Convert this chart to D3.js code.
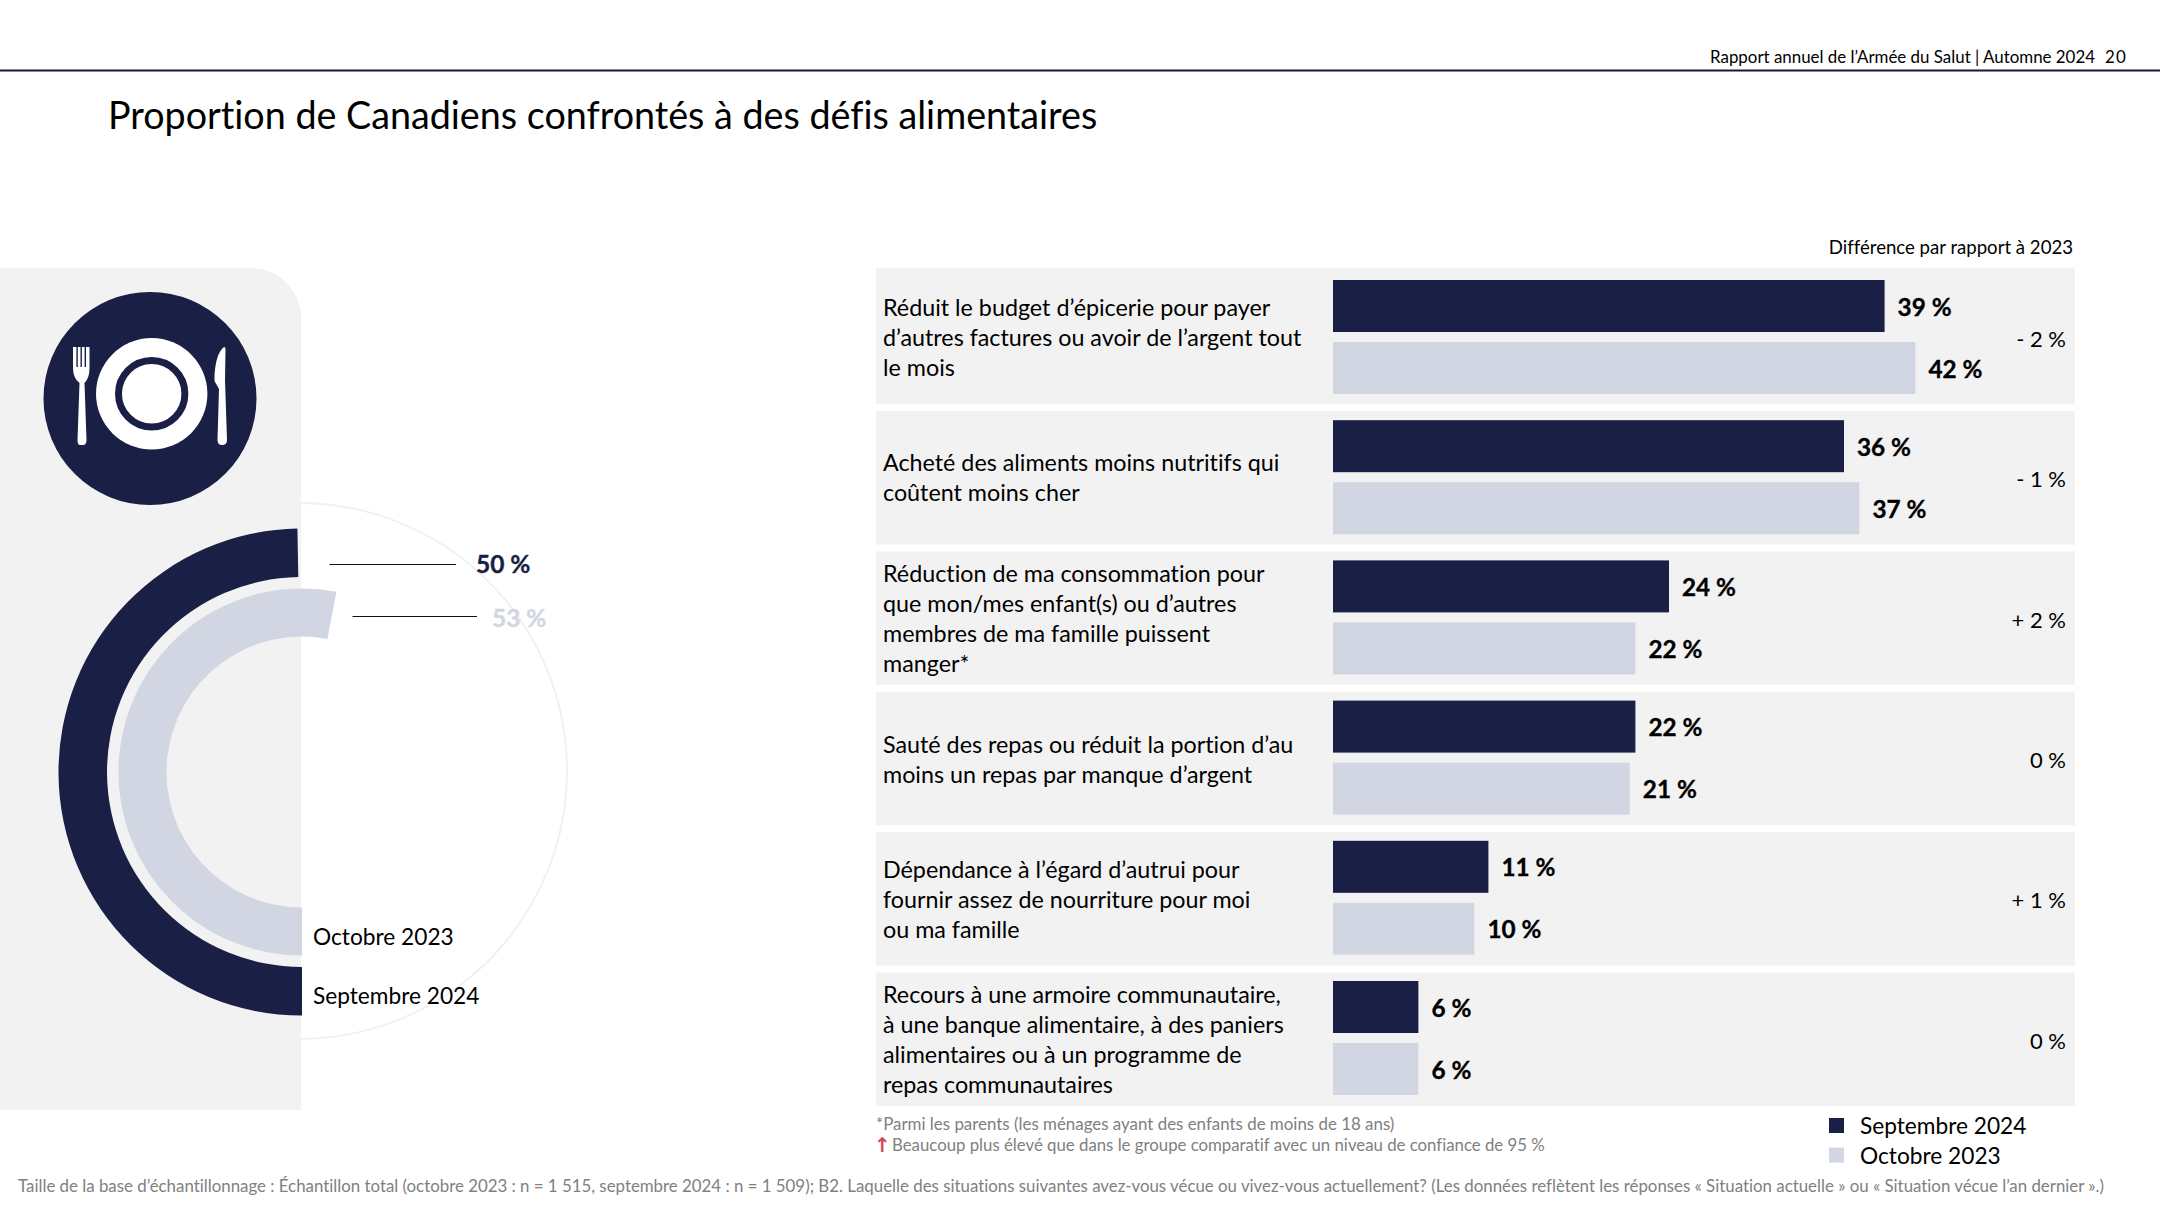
<!DOCTYPE html>
<html lang="fr">
<head>
<meta charset="utf-8">
<title>Proportion de Canadiens confrontés à des défis alimentaires</title>
<script src="https://cdn.jsdelivr.net/npm/d3@7"></script>
<style>
  html, body { margin: 0; padding: 0; background: #fff; }
  svg { display: block; }
  text { font-family: Lato, "Open Sans", sans-serif; fill: #000; font-variant-ligatures: none; }
  .strong { stroke: currentColor; stroke-width: 0.35px; }
</style>
</head>
<body>
<svg id="chart" width="2160" height="1215"></svg>
<script>
const seriesNames = [`Septembre 2024`, `Octobre 2023`];

// ring values
const ringValues = [49.7, 53];
const ringLabels = [`50 %`, `53 %`];

const categories = [
  [`Réduit le budget d’épicerie pour payer`, `d’autres factures ou avoir de l’argent tout`, `le mois`],
  [`Acheté des aliments moins nutritifs qui`, `coûtent moins cher`],
  [`Réduction de ma consommation pour`, `que mon/mes enfant(s) ou d’autres`, `membres de ma famille puissent`, `manger*`],
  [`Sauté des repas ou réduit la portion d’au`, `moins un repas par manque d’argent`],
  [`Dépendance à l’égard d’autrui pour`, `fournir assez de nourriture pour moi`, `ou ma famille`],
  [`Recours à une armoire communautaire,`, `à une banque alimentaire, à des paniers`, `alimentaires ou à un programme de`, `repas communautaires`]
];

// bar lengths as drawn, the printed labels are rounded
const sept2024 = [39.4, 36.5, 24, 21.6, 11.1, 6.1];
const oct2023 = [41.6, 37.6, 21.6, 21.2, 10.1, 6.1];
const sept2024Labels = [`39 %`, `36 %`, `24 %`, `22 %`, `11 %`, `6 %`];
const oct2023Labels = [`42 %`, `37 %`, `22 %`, `21 %`, `10 %`, `6 %`];
const differences = [`- 2 %`, `- 1 %`, `+ 2 %`, `0 %`, `+ 1 %`, `0 %`];

const navy = `#1a1f45`;
const light = `#d2d6e2`;
const panel = `#f2f2f2`;
const grey = `#808080`;

const svg = d3.select(`#chart`);

const addText = (x, y, str, size, opts = {}) => svg.append(`text`)
  .attr(`x`, x)
  .attr(`y`, y)
  .attr(`font-size`, size)
  .attr(`font-weight`, opts.weight || 400)
  .attr(`text-anchor`, opts.anchor || `start`)
  .attr(`class`, opts.weight ? `strong` : null)
  .style(`fill`, opts.fill || `#000`)
  .style(`color`, opts.fill || `#000`)
  .text(str);

// header
svg.append(`line`)
  .attr(`x1`, 0).attr(`x2`, 2160)
  .attr(`y1`, 70.5).attr(`y2`, 70.5)
  .attr(`stroke`, `#141a33`).attr(`stroke-width`, 2);
addText(2095, 63, `Rapport annuel de l’Armée du Salut | Automne 2024`, 16.9, {anchor: `end`});
addText(2105, 63, `2`, 16.9);
addText(2116, 63, `0`, 16.9);
addText(108, 129, `Proportion de Canadiens confrontés à des défis alimentaires`, 37.7);

// left panel, guide circle behind it
const cx = 302;
const cy = 772;
svg.append(`circle`)
  .attr(`cx`, cx - 3).attr(`cy`, cy - 1).attr(`r`, 268)
  .attr(`fill`, `none`).attr(`stroke`, `#f1f1f3`).attr(`stroke-width`, 2);
svg.append(`path`)
  .attr(`fill`, panel)
  .attr(`d`, `M0,268 H251 A50,50 0 0 1 301,318 V1110 H0 Z`);

// plate icon
const icon = svg.append(`g`);
icon.append(`circle`).attr(`cx`, 150).attr(`cy`, 398.5).attr(`r`, 106.5).attr(`fill`, navy);
icon.append(`circle`).attr(`cx`, 151.7).attr(`cy`, 393.8).attr(`r`, 55.7).attr(`fill`, `#fff`);
icon.append(`circle`).attr(`cx`, 151.7).attr(`cy`, 393.8).attr(`r`, 33.2)
  .attr(`fill`, `#fff`).attr(`stroke`, navy).attr(`stroke-width`, 7);
icon.append(`path`).attr(`fill`, `#fff`)
  .attr(`d`, `M73,347 H89.5 V368 Q89.5,378 84.5,383 L86.5,440 Q86.5,445 83,445 H80 Q77.5,445 77.5,440 L79.5,383 Q73,378 73,368 Z`);
[77.1, 81.2, 85.3].forEach(x => {
  icon.append(`line`)
    .attr(`x1`, x).attr(`x2`, x).attr(`y1`, 346).attr(`y2`, 367)
    .attr(`stroke`, navy).attr(`stroke-width`, 1.4);
});
icon.append(`path`).attr(`fill`, `#fff`)
  .attr(`d`, `M224,347 Q216,353 214.5,375 L214.5,381 L219,389 L217.5,440 Q217.5,445 222,445 Q227,445 227,440 L225,380 L225.5,350 Q225.5,347 224,347 Z`);

// ring
const ringAngle = d3.scaleLinear().domain([0, 100]).range([Math.PI, 3 * Math.PI]);
const ringRadii = d3.scaleOrdinal().domain(seriesNames).range([[195, 243.5], [135.5, 183.5]]);
const ringColor = d3.scaleOrdinal().domain(seriesNames).range([navy, light]);
const arc = d3.arc();

svg.append(`g`)
  .attr(`transform`, `translate(${cx},${cy})`)
  .selectAll(`path`)
  .data(seriesNames)
  .join(`path`)
  .attr(`fill`, d => ringColor(d))
  .attr(`d`, (d, i) => arc({
    innerRadius: ringRadii(d)[0],
    outerRadius: ringRadii(d)[1],
    startAngle: ringAngle(0),
    endAngle: ringAngle(ringValues[i])
  }));

// ring leaders and labels
const leaderX = [[329.5, 456], [352.5, 477]];
const leaderY = [564.5, 616.5];
const ringLabelX = [476, 492];
ringLabels.forEach((label, i) => {
  svg.append(`line`)
    .attr(`x1`, leaderX[i][0]).attr(`x2`, leaderX[i][1])
    .attr(`y1`, leaderY[i]).attr(`y2`, leaderY[i])
    .attr(`stroke`, `#111`).attr(`stroke-width`, 1);
  addText(ringLabelX[i], leaderY[i] + 8.5 + i * 2, label, 24.5, {weight: 700, fill: i ? light : navy});
});
addText(313, 945, seriesNames[1], 22.7);
addText(313, 1003.5, seriesNames[0], 22.7);

// rows
const rowY = d3.scaleBand()
  .domain(d3.range(categories.length))
  .range([270.6, 1106])
  .paddingInner(6.9 / 140.4);
const firstRowExtra = 2.6;

svg.append(`g`)
  .selectAll(`rect`)
  .data(categories)
  .join(`rect`)
  .attr(`x`, 876)
  .attr(`width`, 2075 - 876)
  .attr(`y`, (d, i) => rowY(i) - (i === 0 ? firstRowExtra : 0))
  .attr(`height`, (d, i) => rowY.bandwidth() + (i === 0 ? firstRowExtra : 0))
  .attr(`fill`, panel);

const x = d3.scaleLinear().domain([0, 1]).range([1333, 1347]);
const groupY = d3.scaleBand()
  .domain(d3.range(categories.length))
  .range([280, 280 + 6 * 140.2]);
const barY = d3.scaleBand()
  .domain(seriesNames)
  .range([0, 114])
  .paddingInner(10 / 62);

const series = [
  {name: seriesNames[0], values: sept2024, labels: sept2024Labels},
  {name: seriesNames[1], values: oct2023, labels: oct2023Labels}
];

series.forEach(s => {
  svg.append(`g`)
    .selectAll(`rect`)
    .data(s.values)
    .join(`rect`)
    .attr(`x`, x(0))
    .attr(`y`, (d, i) => groupY(i) + barY(s.name))
    .attr(`width`, d => x(d) - x(0))
    .attr(`height`, barY.bandwidth())
    .attr(`fill`, ringColor(s.name));

  svg.append(`g`)
    .selectAll(`text`)
    .data(s.values)
    .join(`text`)
    .attr(`class`, `strong`)
    .attr(`x`, d => x(d) + 13)
    .attr(`y`, (d, i) => groupY(i) + barY(s.name) + barY.bandwidth() / 2 + 9.5)
    .attr(`font-size`, 24.3)
    .attr(`font-weight`, 700)
    .text((d, i) => s.labels[i]);
});

// row labels and differences
const lineHeight = 30;
categories.forEach((lines, i) => {
  const mid = groupY(i) + 58 + (i > 1 ? 1 : 0);
  lines.forEach((line, j) => {
    const y = mid + (j - (lines.length - 1) / 2) * lineHeight + 8;
    addText(883, y, line, 23.3);
  });
  addText(2066, mid + 8.5, differences[i], 22, {anchor: `end`});
});
addText(2073, 254, `Différence par rapport à 2023`, 18.6, {anchor: `end`});

// footnotes
addText(876, 1129.5, `*Parmi les parents (les ménages ayant des enfants de moins de 18 ans)`, 16.9, {fill: grey});
svg.append(`text`)
  .attr(`x`, 874).attr(`y`, 1152)
  .attr(`font-size`, 20)
  .attr(`font-weight`, 700)
  .style(`font-family`, `"DejaVu Sans"`)
  .style(`fill`, `#d9475a`)
  .text(`↑`);
addText(892, 1150.5, `Beaucoup plus élevé que dans le groupe comparatif avec un niveau de confiance de 95 %`, 16.8, {fill: grey});
addText(18, 1192, `Taille de la base d’échantillonnage : Échantillon total (octobre 2023 : n = 1 515, septembre 2024 : n = 1 509); B2. Laquelle des situations suivantes avez-vous vécue ou vivez-vous actuellement? (Les données reflètent les réponses « Situation actuelle » ou « Situation vécue l’an dernier ».)`, 16.85, {fill: grey});

// legend
seriesNames.forEach((name, i) => {
  svg.append(`rect`)
    .attr(`x`, 1829).attr(`y`, 1118 + i * 29.6)
    .attr(`width`, 15).attr(`height`, 15)
    .attr(`fill`, ringColor(name));
  addText(1860, 1134 + i * 30, name, 22.7);
});
</script>
</body>
</html>
